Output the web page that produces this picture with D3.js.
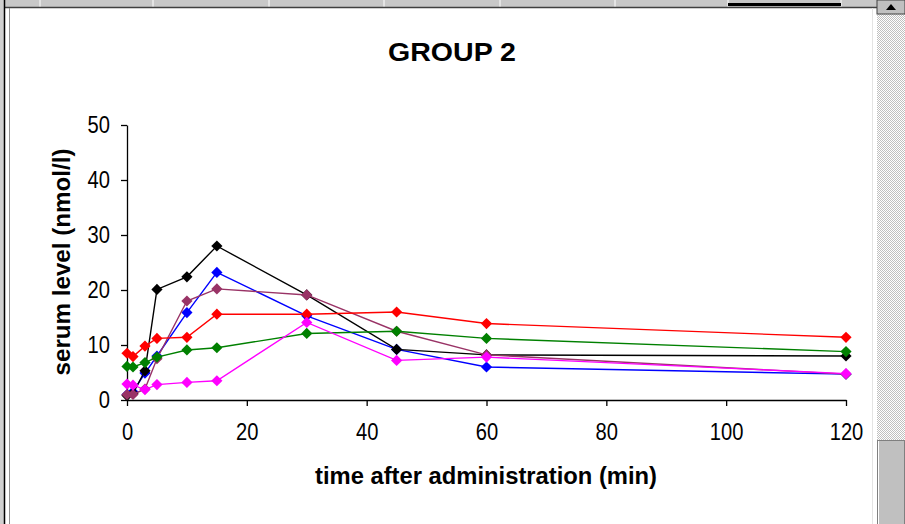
<!DOCTYPE html>
<html>
<head>
<meta charset="utf-8">
<script src="https://cdn.jsdelivr.net/npm/d3@7"></script>
<style>
  body { margin: 0; background: #fff; }
  svg { display: block; }
</style>
</head>
<body>
<div id="chart"></div>
<script>
// sample times (min) and serum levels (nmol/l)
var times = [0, 1, 3, 5, 10, 15, 30, 45, 60, 120];
var blueVals    = [1.0, 1.5, 4.9, 8.0, 15.9, 23.2, 15.3, 9.2, 6.0, 4.7];
var blackVals   = [0.8, 1.2, 5.3, 20.1, 22.4, 28.0, 19.1, 9.2, 8.2, 8.0];
var plumVals    = [1.0, 1.0, 2.0, 7.5, 18.0, 20.2, 19.1, 12.5, 8.2, 4.7];
var redVals     = [8.5, 7.9, 9.8, 11.2, 11.4, 15.6, 15.6, 16.0, 13.9, 11.4];
var greenVals   = [6.1, 6.0, 6.8, 7.8, 9.1, 9.5, 12.1, 12.5, 11.2, 8.8];
var magentaVals = [2.9, 2.7, 1.9, 2.8, 3.2, 3.5, 14.1, 7.2, 7.8, 4.8];

var seriesNames  = ["blue", "black", "plum", "red", "green", "magenta"];
var seriesValues = [blueVals, blackVals, plumVals, redVals, greenVals, magentaVals];
var seriesColors = ["#0000ff", "#000000", "#993366", "#ff0000", "#008000", "#ff00ff"];

var xTicks = [0, 20, 40, 60, 80, 100, 120];
var yTicks = [0, 10, 20, 30, 40, 50];

var W = 905, H = 524;
var svg = d3.select("#chart").append("svg")
  .attr("width", W).attr("height", H);

// ---- window chrome (sheet behind the chart) ----
svg.append("rect").attr("x", 0).attr("y", 0).attr("width", W).attr("height", H).attr("fill", "#ffffff");
svg.append("rect").attr("x", 0).attr("y", 0).attr("width", 877).attr("height", 7).attr("fill", "#c8c8c8");
[40, 153, 269, 384, 500, 615, 728, 841].forEach(function(px) {
  svg.append("line").attr("x1", px).attr("x2", px).attr("y1", 0).attr("y2", 7)
    .attr("stroke", "#ffffff").attr("stroke-width", 1);
});
svg.append("rect").attr("x", 728).attr("y", 3).attr("width", 113).attr("height", 3).attr("fill", "#000");
svg.append("line").attr("x1", 0).attr("x2", 877).attr("y1", 7.5).attr("y2", 7.5).attr("stroke", "#404040").attr("stroke-width", 1.5);
svg.append("rect").attr("x", 0).attr("y", 0).attr("width", 4).attr("height", H).attr("fill", "#d0d0d0");
svg.append("line").attr("x1", 4.5).attr("x2", 4.5).attr("y1", 0).attr("y2", H).attr("stroke", "#000").attr("stroke-width", 1.5);
svg.append("line").attr("x1", 9.5).attr("x2", 9.5).attr("y1", 8).attr("y2", H).attr("stroke", "#909090").attr("stroke-width", 1);
svg.append("line").attr("x1", 872.5).attr("x2", 872.5).attr("y1", 8).attr("y2", H).attr("stroke", "#e4e4e4").attr("stroke-width", 1);

// scrollbar
var defs = svg.append("defs");
var pat = defs.append("pattern").attr("id", "dither").attr("width", 2).attr("height", 2)
  .attr("patternUnits", "userSpaceOnUse");
pat.append("rect").attr("width", 2).attr("height", 2).attr("fill", "#ffffff");
pat.append("rect").attr("width", 1).attr("height", 1).attr("fill", "#c0c0c0");
pat.append("rect").attr("x", 1).attr("y", 1).attr("width", 1).attr("height", 1).attr("fill", "#c0c0c0");
svg.append("rect").attr("x", 877).attr("y", 0).attr("width", 28).attr("height", H).attr("fill", "url(#dither)");
svg.append("rect").attr("x", 877).attr("y", 0).attr("width", 28).attr("height", 14).attr("fill", "#c0c0c0")
  .attr("stroke", "#404040").attr("stroke-width", 1);
svg.append("path").attr("d", "M886,10 L891,4 L896,10 Z").attr("fill", "#000");
svg.append("rect").attr("x", 877.5).attr("y", 440.5).attr("width", 27).attr("height", 90).attr("fill", "#c0c0c0")
  .attr("stroke", "#808080").attr("stroke-width", 1);
svg.append("line").attr("x1", 878.5).attr("x2", 878.5).attr("y1", 441).attr("y2", H).attr("stroke", "#fff");

// ---- chart ----
var x = d3.scaleLinear().domain([0, 120]).range([127, 846]);
var y = d3.scaleLinear().domain([0, 50]).range([400, 125]);

var font = "Arial, 'Liberation Sans', sans-serif";
var narrow = 0.84;   // tick digits in the picture are tall and narrow

svg.append("text")
  .attr("x", 452).attr("y", 61)
  .attr("text-anchor", "middle")
  .attr("textLength", 128)
  .attr("lengthAdjust", "spacingAndGlyphs")
  .style("font-family", font)
  .style("font-weight", "bold")
  .style("font-size", "26px")
  .text("GROUP 2");

var yAxis = svg.append("g")
  .attr("transform", "translate(127,0)")
  .call(d3.axisLeft(y).tickValues(yTicks).tickSize(6).tickSizeOuter(0).tickPadding(11));
var xAxis = svg.append("g")
  .attr("transform", "translate(0,400)")
  .call(d3.axisBottom(x).tickValues(xTicks).tickSize(6).tickSizeOuter(0).tickPadding(17));

[yAxis, xAxis].forEach(function(ax) {
  ax.select(".domain").attr("stroke", "#000").attr("stroke-width", 1.3);
  ax.selectAll(".tick line").attr("stroke", "#000").attr("stroke-width", 1.3);
  ax.selectAll(".tick text")
    .style("font-family", font)
    .style("font-size", "24px")
    .attr("fill", "#000");
});
xAxis.selectAll(".tick text").attr("transform", "scale(" + narrow + ",1)");
yAxis.selectAll(".tick text")
  .attr("x", -17 / narrow)
  .attr("transform", "scale(" + narrow + ",1)");

svg.append("text")
  .attr("transform", "translate(70,262)rotate(-90)")
  .attr("text-anchor", "middle")
  .attr("textLength", 227)
  .attr("lengthAdjust", "spacingAndGlyphs")
  .style("font-family", font)
  .style("font-weight", "bold")
  .style("font-size", "23px")
  .text("serum level (nmol/l)");

svg.append("text")
  .attr("x", 486).attr("y", 484)
  .attr("text-anchor", "middle")
  .attr("textLength", 342)
  .attr("lengthAdjust", "spacingAndGlyphs")
  .style("font-family", font)
  .style("font-weight", "bold")
  .style("font-size", "23px")
  .text("time after administration (min)");

var line = d3.line()
  .x(function(d) { return x(d.t); })
  .y(function(d) { return y(d.v); });

var diamond = d3.symbol().type(d3.symbolDiamond2).size(80);

seriesValues.forEach(function(vals, i) {
  var pts = times.map(function(t, j) { return {t: t, v: vals[j]}; });
  var g = svg.append("g").attr("class", "series " + seriesNames[i]);
  g.append("path")
    .datum(pts)
    .attr("d", line)
    .attr("fill", "none")
    .attr("stroke", seriesColors[i])
    .attr("stroke-width", 1.4);
  g.selectAll("path.mark")
    .data(pts)
    .enter()
    .append("path")
      .attr("class", "mark")
      .attr("d", diamond)
      .attr("transform", function(d) { return "translate(" + x(d.t) + "," + y(d.v) + ")"; })
      .attr("fill", seriesColors[i]);
});
</script>
</body>
</html>
